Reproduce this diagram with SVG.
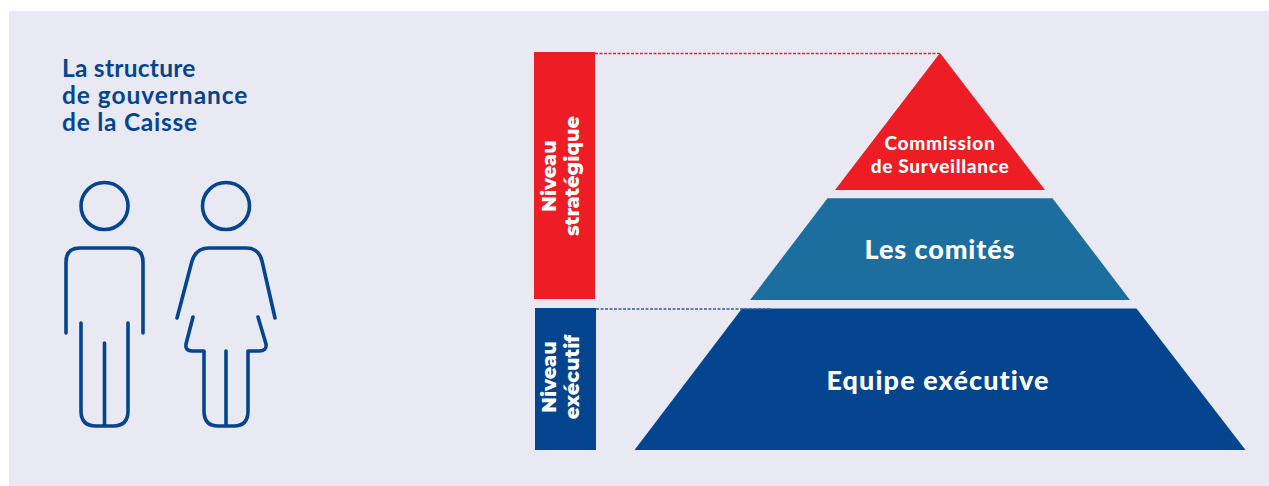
<svg xmlns="http://www.w3.org/2000/svg" width="1269" height="486" viewBox="0 0 1269 486">
<style>
.w{font-family:"Lato","Liberation Sans",sans-serif;font-weight:900;fill:#fff;text-anchor:middle}
.c{font-size:19px;letter-spacing:.7px}
.l{font-size:27px;letter-spacing:.9px}
.v{font-family:"Montserrat","Open Sans","Liberation Sans",sans-serif;font-weight:800;fill:#fff;text-anchor:middle;font-size:19.500px}
.t{font-family:"Lato","Liberation Sans",sans-serif;font-weight:700;fill:#05458f;font-size:24.500px}
.p{fill:none;stroke:#05458f;stroke-width:3.6;stroke-linecap:round;stroke-linejoin:round}
.d{fill:none;stroke-width:1.3;stroke-dasharray:3 1.500}
</style>
<rect width="1269" height="486" fill="#fff"/>
<rect x="9" y="11" width="1260" height="475" fill="#e9e9f3"/>
<g id="title"><text class="t" x="62" y="77" letter-spacing=".25">La structure</text><text class="t" x="62" y="104" letter-spacing=".95">de gouvernance</text><text class="t" x="62" y="131" letter-spacing=".75">de la Caisse</text></g>
<g id="man" class="p"><circle cx="104.500" cy="206" r="23.500"/><path d="M66 333V262Q66 248 80 248H129Q143 248 143 262V333M81 323V411Q81 426 96 426H113Q128 426 128 411V323M104.500 343V426"/></g>
<g id="woman" class="p"><circle cx="226" cy="206" r="23.500"/><path d="M177 318L192 261Q196 248 209 248H246Q259 248 262 261L275 318M193 317L186 344Q185 351 192 351H204V411Q204 426 218 426H234Q248 426 248 411V351H259Q267 351 266 344L258 317M226 351V426"/></g>
<g id="niveau-strategique"><rect x="534" y="52" width="61" height="247" fill="#ee1c25"/><text class="v" transform="translate(555.500 176) rotate(-90)">Niveau</text><text class="v" transform="translate(579 176) rotate(-90)">stratégique</text></g>
<g id="niveau-executif"><rect x="535" y="308" width="61" height="142" fill="#05458f"/><text class="v" transform="translate(555.500 377) rotate(-90)">Niveau</text><text class="v" transform="translate(579 377) rotate(-90)">exécutif</text></g>
<g id="commission"><polygon points="940,53 1045,190 835,190" fill="#ee1c25"/><text class="w c" x="940" y="149.500">Commission</text><text class="w c" x="940" y="172.500">de Surveillance</text></g>
<g id="comites"><polygon points="827.500,198.300 1052.500,198.300 1130,300 750,300" fill="#1c6e9f"/><text class="w l" x="940" y="259">Les comités</text></g>
<g id="equipe"><polygon points="742,308.500 1136.500,308.500 1245.500,450 634.500,450" fill="#05458f"/><text class="w l" x="938" y="390" style="letter-spacing:1.1px">Equipe exécutive</text></g>
<g id="connectors"><path class="d" d="M595 53.500H940" stroke="#dc2a38"/><path class="d" d="M596 309H770" stroke="#2f62a3"/></g>
</svg>
